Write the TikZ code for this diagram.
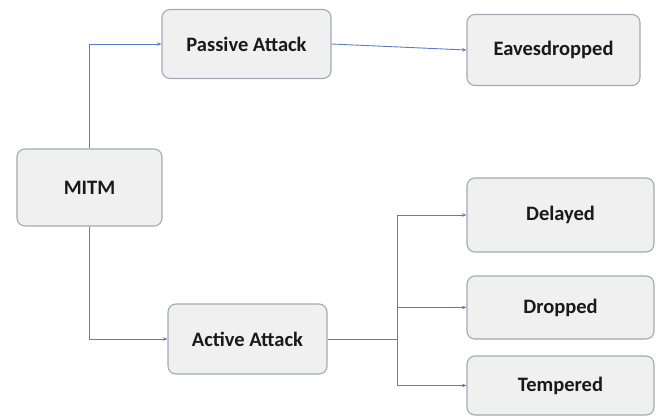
\documentclass[tikz,border=0pt]{standalone}
\usepackage{fontspec}
\setmainfont{Carlito}
\usepackage{xcolor}
\usepackage{tikz}
\usetikzlibrary{arrows.meta,positioning}
\definecolor{BoxLine}{HTML}{A3AAB7}
\definecolor{BoxFill}{HTML}{F0F0F0}
\definecolor{LinkBlue}{HTML}{5A7CC4}

\begin{document}
\begin{tikzpicture}[x=1pt,y=-1pt,
  box/.style={draw=BoxLine,line width=1.1pt,rounded corners=8pt,fill=BoxFill,
      font=\fontsize{20.5}{24}\selectfont\bfseries,text=black!90},
  link/.style={draw=LinkBlue,line width=0.9pt,-{Stealth[length=4.5pt,width=3.5pt]}}]
\useasboundingbox (0,0) rectangle (659,416);
\node[box,minimum width=145pt,minimum height=77pt] (mitm) at (89.5,187.5) {MITM};
\node[box,minimum width=169pt,minimum height=69pt] (passive) at (246.5,44) {Passive Attack};
\node[box,minimum width=159pt,minimum height=70pt] (active) at (247.5,339) {Active Attack};
\node[box,minimum width=173pt,minimum height=71pt] (eaves) at (553.5,50) {Eavesdropped};
\node[box,minimum width=187pt,minimum height=74pt] (delayed) at (560.5,215) {Delayed};
\node[box,minimum width=187pt,minimum height=63pt] (dropped) at (560.5,307.5) {Dropped};
\node[box,minimum width=187pt,minimum height=59pt] (tempered) at (560.5,385.5) {Tempered};
\coordinate (split) at (397,339);
\draw[link] (mitm.north) |- (passive.west);
\draw[link] (mitm.south) |- (active.west);
\draw[link] (passive.east) -- (eaves.west);
\draw[draw=LinkBlue,line width=0.9pt] (active.east) -- (split);
\draw[link] (split) |- (delayed.west);
\draw[link] (split) |- (dropped.west);
\draw[link] (split) |- (tempered.west);
\end{tikzpicture}
\end{document}
